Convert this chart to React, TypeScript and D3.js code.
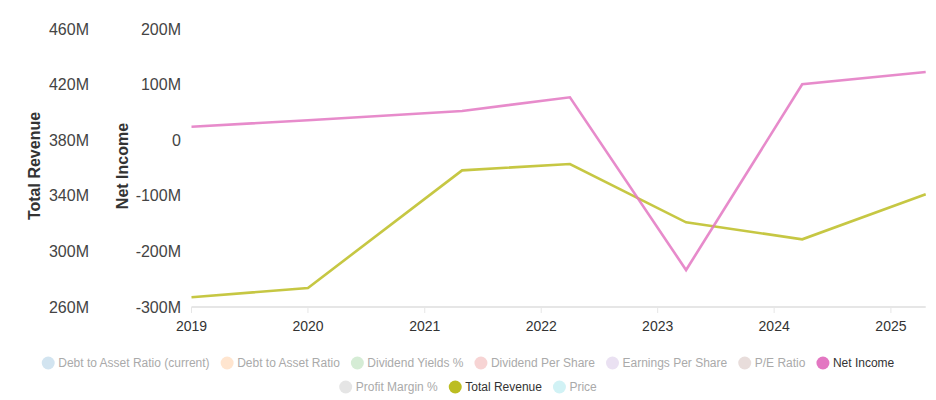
import { useEffect, useRef } from "react";
import * as d3 from "d3";

const dates = ["2019-01-01", "2020-01-01", "2021-04-28", "2022-04-01", "2023-03-31", "2024-03-29", "2025-04-20"];
const netIncome = [24.3e6, 35.8e6, 52.5e6, 77.2e6, -233.5e6, 100.5e6, 122.7e6];
const totalRevenue = [267.0e6, 273.7e6, 358.3e6, 362.9e6, 320.9e6, 308.7e6, 341.1e6];
const revenueTicks = [260e6, 300e6, 340e6, 380e6, 420e6, 460e6];
const incomeTicks = [-300e6, -200e6, -100e6, 0, 100e6, 200e6];
const legendNames = [
  "Debt to Asset Ratio (current)",
  "Debt to Asset Ratio",
  "Dividend Yields %",
  "Dividend Per Share",
  "Earnings Per Share",
  "P/E Ratio",
  "Net Income",
  "Profit Margin %",
  "Total Revenue",
  "Price",
];
const activeNames = ["Net Income", "Total Revenue"];

const W = 936;
const H = 400;
const FONT = "'Liberation Sans', Arial, sans-serif";

const fmt = (d: number) => (d === 0 ? "0" : `${d / 1e6}M`);

export default function App() {
  const svgRef = useRef<SVGSVGElement>(null);

  useEffect(() => {
    const svg = d3.select(svgRef.current);
    svg.selectAll("*").remove();

    const parsed = dates.map((d) => new Date(d + "T00:00:00"));
    const x = d3.scaleTime().domain([parsed[0], parsed[parsed.length - 1]]).range([191.5, 925.7]);
    const yRev = d3.scaleLinear().domain([260e6, 460e6]).range([307, 29]);
    const yNI = d3.scaleLinear().domain([-300e6, 200e6]).range([307, 29]);
    const color = d3.scaleOrdinal<string, string>().domain(legendNames).range(d3.schemeCategory10);

    // bottom axis
    const xAxis = svg.append("g").attr("transform", "translate(0,307)");
    xAxis
      .append("line")
      .attr("x1", 191.5)
      .attr("x2", 925.7)
      .attr("stroke", "#e6e6e6")
      .attr("stroke-width", 2);
    const years = d3.timeYear.range(new Date("2019-01-01T00:00:00"), new Date("2026-01-01T00:00:00"));
    const yt = xAxis.selectAll("g.tick").data(years).enter().append("g").attr("transform", (d) => `translate(${x(d)},0)`);
    yt.append("line").attr("y1", 0).attr("y2", 6).attr("stroke", "#e6e6e6").attr("stroke-width", 1);
    yt.append("text")
      .attr("y", 24)
      .attr("text-anchor", "middle")
      .attr("font-family", FONT)
      .attr("font-size", 14)
      .attr("fill", "#333")
      .text((d) => d3.timeFormat("%Y")(d));

    // left axes
    svg
      .append("g")
      .selectAll("text")
      .data(revenueTicks)
      .enter()
      .append("text")
      .attr("x", 89)
      .attr("y", (d) => yRev(d))
      .attr("dy", "0.35em")
      .attr("text-anchor", "end")
      .attr("font-family", FONT)
      .attr("font-size", 16)
      .attr("fill", "#444")
      .text(fmt);
    svg
      .append("g")
      .selectAll("text")
      .data(incomeTicks)
      .enter()
      .append("text")
      .attr("x", 181)
      .attr("y", (d) => yNI(d))
      .attr("dy", "0.35em")
      .attr("text-anchor", "end")
      .attr("font-family", FONT)
      .attr("font-size", 16)
      .attr("fill", "#444")
      .text(fmt);

    const title = (label: string, cx: number, cy: number) =>
      svg
        .append("text")
        .attr("transform", `translate(${cx},${cy}) rotate(-90)`)
        .attr("text-anchor", "middle")
        .attr("dy", "0.35em")
        .attr("font-family", FONT)
        .attr("font-size", 16)
        .attr("font-weight", "bold")
        .attr("fill", "#333")
        .text(label);
    title("Total Revenue", 34, 166);
    title("Net Income", 122, 166);

    // lines
    const revLine = d3
      .line<number>()
      .x((_, i) => x(parsed[i]))
      .y((d) => yRev(d));
    const niLine = d3
      .line<number>()
      .x((_, i) => x(parsed[i]))
      .y((d) => yNI(d));
    svg
      .append("path")
      .attr("d", revLine(totalRevenue))
      .attr("fill", "none")
      .attr("stroke", color("Total Revenue"))
      .attr("stroke-opacity", 0.85)
      .attr("stroke-width", 2.6);
    svg
      .append("path")
      .attr("d", niLine(netIncome))
      .attr("fill", "none")
      .attr("stroke", color("Net Income"))
      .attr("stroke-opacity", 0.85)
      .attr("stroke-width", 2.6);

    // legend, wrapped and centred
    const legend = svg.append("g");
    const items = legendNames.map((name) => {
      const active = activeNames.includes(name);
      const g = legend.append("g");
      g.append("circle")
        .attr("r", 6.5)
        .attr("fill", color(name))
        .attr("fill-opacity", active ? 1 : 0.2);
      const t = g
        .append("text")
        .attr("x", 10)
        .attr("dy", "0.35em")
        .attr("font-family", FONT)
        .attr("font-size", 12)
        .attr("fill", active ? "#333" : "#aaa")
        .text(name);
      const w = (t.node() as SVGTextElement).getComputedTextLength();
      return { g, w: 6.5 + 10 + w };
    });
    const gap = 11;
    const maxW = 900;
    const rows: { g: any; w: number }[][] = [[]];
    let cur = 0;
    items.forEach((it) => {
      const add = (rows[rows.length - 1].length ? gap : 0) + it.w;
      if (cur + add > maxW && rows[rows.length - 1].length) {
        rows.push([it]);
        cur = it.w;
      } else {
        rows[rows.length - 1].push(it);
        cur += add;
      }
    });
    rows.forEach((row, ri) => {
      const total = d3.sum(row, (r) => r.w) + gap * (row.length - 1);
      let px = W / 2 - total / 2;
      row.forEach((it) => {
        it.g.attr("transform", `translate(${px + 6.5},${363 + ri * 24})`);
        px += it.w + gap;
      });
    });
  }, []);

  return (
    <svg
      ref={svgRef}
      width={W}
      height={H}
      style={{ position: "absolute", left: 0, top: 0, background: "#fff" }}
    />
  );
}
